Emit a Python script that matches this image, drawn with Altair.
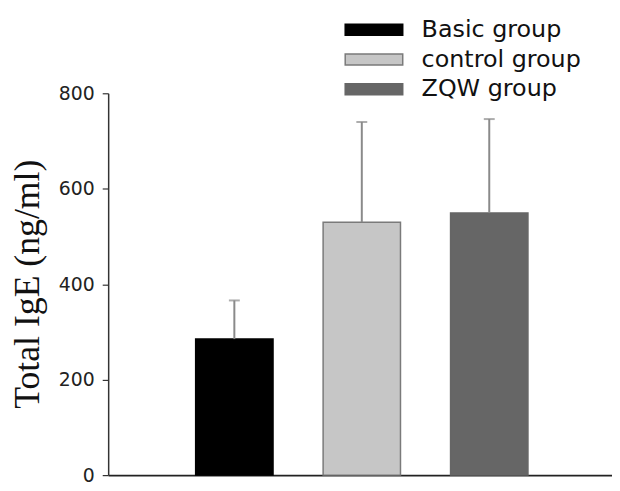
import altair as alt
import pandas as pd

groups = ["Basic group", "control group", "ZQW group"]
means = [285, 530, 549]
err_tops = [366, 740, 746]
fills = ["#000000", "#c6c6c6", "#666666"]
strokes = ["#000000", "#7a7a7a", "#666666"]
y_ticks = [0, 200, 400, 600, 800]

df = pd.DataFrame({"group": groups, "mean": means, "top": err_tops})

x = alt.X("group:N", sort=groups,
          scale=alt.Scale(paddingInner=0.393, paddingOuter=0.673, align=0.51),
          axis=alt.Axis(title=None, labels=False, ticks=False, domainColor="#222222",
                        domainWidth=2))

color = alt.Color("group:N", sort=groups,
                  scale=alt.Scale(domain=groups, range=fills),
                  legend=alt.Legend(title=None, orient="none", legendX=256, legendY=-76,
                                    symbolType="M-5.8,-1.1H5.8V1.1H-5.8Z", symbolSize=100,
                                    symbolStrokeWidth=1.5, symbolOpacity=1,
                                    labelFont="DejaVu Sans", labelFontSize=24,
                                    labelColor="#111111", labelOffset=36,
                                    rowPadding=6, padding=0, labelLimit=300))
stroke = alt.Stroke("group:N", sort=groups,
                    scale=alt.Scale(domain=groups, range=strokes), legend=None)

bars = alt.Chart(df).mark_bar(strokeWidth=1.5, opacity=1).encode(
    x=x,
    y=alt.Y("mean:Q", scale=alt.Scale(domain=[0, 800], nice=False),
            axis=alt.Axis(values=y_ticks, title="Total IgE (ng/ml)", grid=False,
                          titleFont="Liberation Serif", titleFontSize=36,
                          titleFontWeight="normal", titleColor="#111111",
                          titleAngle=270, titleX=-81, titleY=192, titleAlign="center",
                          titleBaseline="middle",
                          labelFont="DejaVu Sans", labelFontSize=19, labelColor="#222222",
                          labelPadding=8, tickSize=6, tickColor="#333333", tickWidth=1.2,
                          domainColor="#333333", domainWidth=1.5)),
    color=color,
    stroke=stroke,
)

err = alt.Chart(df).mark_rule(color="#8a8a8a", strokeWidth=2).encode(
    x=alt.X("group:N", sort=groups),
    y="mean:Q",
    y2="top:Q",
)
cap = alt.Chart(df).mark_tick(color="#8a8a8a", size=11, thickness=2).encode(
    x=alt.X("group:N", sort=groups),
    y="top:Q",
)

chart = (bars + err + cap).properties(
    width=508, height=385,
    autosize=alt.AutoSizeParams(type="none"),
    padding={"left": 101, "top": 84, "right": 0, "bottom": 12},
).configure_view(stroke=None).configure_axis(domainCap="butt")

chart.save("out.html", embed_options={"renderer": "svg", "actions": False})
